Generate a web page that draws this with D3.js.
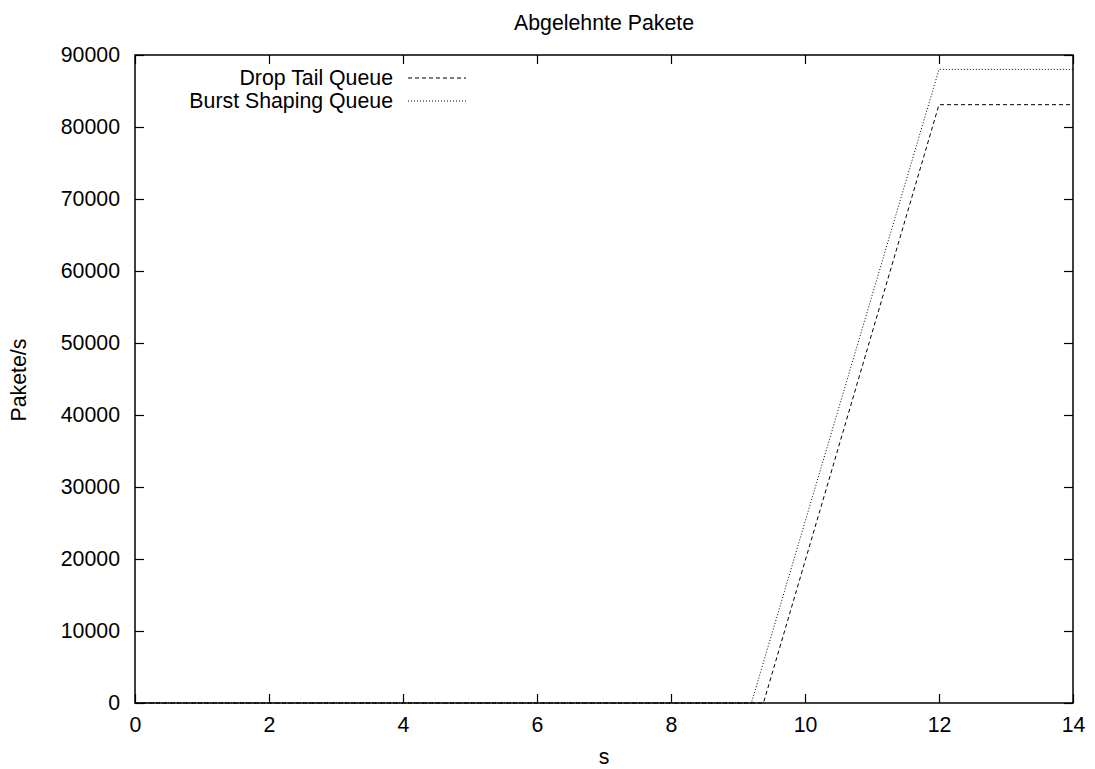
<!DOCTYPE html>
<html>
<head>
<meta charset="utf-8">
<script src="https://cdn.jsdelivr.net/npm/d3@7"></script>
<style>
  body { margin: 0; background: #fff; }
  text { font-family: "Liberation Sans", Arial, sans-serif; fill: #000; }
</style>
</head>
<body>
<div id="chart"></div>
<script>
// time points (s) and rejected packets
var dropTime = [0, 9.38, 12, 14];
var dropValues = [0, 0, 83100, 83100];
var burstTime = [0, 9.2, 12, 14];
var burstValues = [0, 0, 88000, 88000];
var xTicks = [0, 2, 4, 6, 8, 10, 12, 14];
var yTicks = [0, 10000, 20000, 30000, 40000, 50000, 60000, 70000, 80000, 90000];
var seriesNames = ["Drop Tail Queue", "Burst Shaping Queue"];

function init(){
    var w = 1095, h = 769;
    var left = 135, right = 1073, top = 55, bottom = 703;
    var fs = 21.3;

    var xScale = d3.scaleLinear().domain([0, 14]).range([left, right]);
    var yScale = d3.scaleLinear().domain([0, 90000]).range([bottom, top]);

    var svg = d3.select("#chart").append("svg")
                .attr("width", w)
                .attr("height", h);

    // lines
    var line = d3.line()
        .x(function(d){ return xScale(d[0]); })
        .y(function(d){ return yScale(d[1]); });

    var series = [
        { name: seriesNames[0], pts: d3.zip(dropTime, dropValues), dash: "4,3" },
        { name: seriesNames[1], pts: d3.zip(burstTime, burstValues), dash: "1,2" }
    ];

    svg.selectAll("path.series")
        .data(series)
        .enter()
        .append("path")
        .attr("class", "series")
        .attr("d", function(d){ return line(d.pts); })
        .attr("fill", "none")
        .attr("stroke", "#000")
        .attr("stroke-width", 1)
        .attr("stroke-dasharray", function(d){ return d.dash; });

    // axes with inward ticks, mirrored
    var tl = 9;
    svg.append("g").attr("transform", "translate(0," + bottom + ")")
        .call(d3.axisBottom(xScale).tickValues(xTicks).tickSize(-tl).tickPadding(tl + 5).tickFormat(d3.format("d")));
    svg.append("g").attr("transform", "translate(0," + top + ")")
        .call(d3.axisTop(xScale).tickValues(xTicks).tickSize(-tl).tickFormat(""));
    svg.append("g").attr("transform", "translate(" + left + ",0)")
        .call(d3.axisLeft(yScale).tickValues(yTicks).tickSize(-tl).tickPadding(tl + 6).tickFormat(d3.format("d")));
    svg.append("g").attr("transform", "translate(" + right + ",0)")
        .call(d3.axisRight(yScale).tickValues(yTicks).tickSize(-tl).tickFormat(""));

    svg.selectAll(".domain").remove();
    svg.selectAll(".tick line").attr("stroke", "#000").attr("stroke-width", 1.2);
    svg.selectAll(".tick text")
        .style("font-family", "Liberation Sans, Arial, sans-serif")
        .style("font-size", fs + "px")
        .attr("fill", "#000");

    // frame
    svg.append("rect")
        .attr("x", left).attr("y", top)
        .attr("width", right - left).attr("height", bottom - top)
        .attr("fill", "none").attr("stroke", "#000").attr("stroke-width", 1.5);

    // title and labels
    svg.append("text").attr("x", (left + right) / 2).attr("y", 30)
        .attr("text-anchor", "middle").style("font-size", fs + "px")
        .text("Abgelehnte Pakete");
    svg.append("text").attr("x", (left + right) / 2).attr("y", 764)
        .attr("text-anchor", "middle").style("font-size", fs + "px")
        .text("s");
    svg.append("text").attr("transform", "translate(26,380) rotate(-90)")
        .attr("text-anchor", "middle").style("font-size", fs + "px")
        .text("Pakete/s");

    // legend
    var leg = svg.selectAll("g.legend")
        .data(series)
        .enter()
        .append("g")
        .attr("class", "legend")
        .attr("transform", function(d, i){ return "translate(0," + (78 + i * 23) + ")"; });
    leg.append("text")
        .attr("x", 393).attr("y", 0).attr("dy", "0.35em")
        .attr("text-anchor", "end").style("font-size", fs + "px")
        .text(function(d){ return d.name; });
    leg.append("line")
        .attr("x1", 408).attr("x2", 466).attr("y1", 0).attr("y2", 0)
        .attr("stroke", "#000").attr("stroke-width", 1)
        .attr("stroke-dasharray", function(d){ return d.dash; });
}
window.onload = init;
</script>
</body>
</html>
